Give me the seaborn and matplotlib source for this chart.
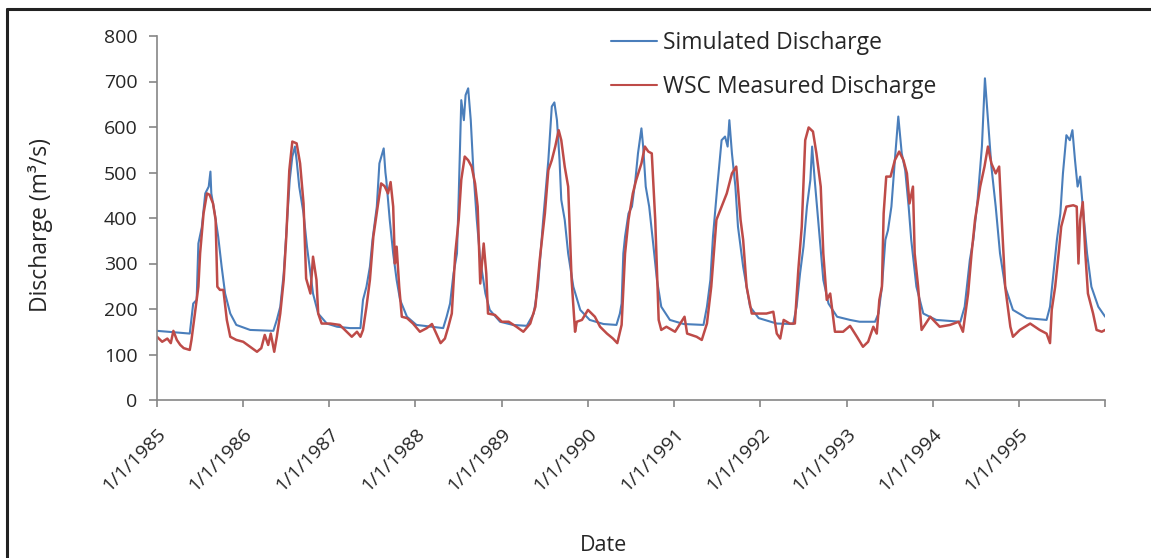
import numpy as np
import pandas as pd
import matplotlib
matplotlib.use("Agg")
import matplotlib.pyplot as plt
from matplotlib.lines import Line2D
import seaborn as sns

# time is in decimal years since 1/1/1985, discharge in m3/s
sim_t = [0.00, 0.38, 0.42, 0.46, 0.48, 0.52, 0.56, 0.60, 0.62, 0.63, 0.67, 0.71, 0.75, 0.79, 0.85, 0.92,
         1.08, 1.35, 1.39, 1.43, 1.47, 1.50, 1.54, 1.57, 1.60, 1.62, 1.65, 1.70, 1.74, 1.78, 1.81, 1.87, 1.97,
         2.09, 2.24, 2.36, 2.39, 2.43, 2.47, 2.50, 2.55, 2.58, 2.63, 2.65, 2.66, 2.70, 2.74, 2.78, 2.82, 2.90,
         3.01, 3.32, 3.36, 3.40, 3.44, 3.48, 3.50, 3.53, 3.56, 3.58, 3.61, 3.64, 3.67, 3.71, 3.75, 3.81, 3.86, 3.98,
         4.13, 4.29, 4.37, 4.42, 4.48, 4.54, 4.58, 4.61, 4.64, 4.67, 4.69, 4.73, 4.77, 4.83, 4.91,
         5.02, 5.18, 5.33, 5.37, 5.39, 5.41, 5.43, 5.47, 5.51, 5.55, 5.58, 5.62, 5.64, 5.67, 5.71, 5.76, 5.80, 5.85, 5.95,
         6.11, 6.34, 6.38, 6.42, 6.45, 6.50, 6.55, 6.59, 6.62, 6.64, 6.67, 6.71, 6.74, 6.80, 6.88, 6.98,
         7.19, 7.38, 7.42, 7.46, 7.50, 7.54, 7.58, 7.60, 7.63, 7.67, 7.73, 7.79, 7.89,
         8.04, 8.15, 8.33, 8.37, 8.41, 8.45, 8.48, 8.52, 8.56, 8.60, 8.64, 8.68, 8.72, 8.75, 8.81, 8.89,
         9.04, 9.32, 9.37, 9.43, 9.47, 9.52, 9.57, 9.605, 9.64, 9.68, 9.73, 9.78, 9.84, 9.93,
         10.09, 10.32, 10.36, 10.40, 10.44, 10.48, 10.51, 10.55, 10.59, 10.62, 10.65, 10.68, 10.71, 10.74,
         10.79, 10.84, 10.92, 11.00]
sim_q = [152, 146, 212, 220, 344, 380, 454, 469, 502, 454, 410, 359, 293, 234, 190, 165,
         154, 152, 176, 205, 278, 366, 484, 535, 557, 527, 469, 410, 337, 278, 234, 190, 168,
         161, 158, 158, 220, 249, 293, 352, 425, 520, 553, 500, 484, 396, 322, 264, 220, 183,
         165, 158, 183, 212, 278, 322, 447, 659, 615, 670, 685, 615, 505, 396, 308, 234, 198, 172,
         165, 163, 190, 249, 396, 527, 645, 654, 615, 527, 440, 396, 322, 249, 198,
         176, 167, 165, 190, 212, 322, 359, 410, 425, 484, 542, 597, 557, 469, 425, 337, 264, 205, 176,
         167, 165, 205, 264, 359, 469, 571, 579, 557, 615, 542, 469, 381, 293, 205, 180,
         168, 167, 205, 278, 337, 425, 484, 557, 484, 396, 264, 212, 183,
         176, 172, 172, 190, 249, 352, 373, 425, 527, 623, 542, 505, 425, 352, 249, 190,
         176, 172, 205, 308, 352, 440, 557, 707, 615, 513, 425, 322, 249, 198,
         180, 176, 205, 278, 352, 410, 498, 582, 571, 593, 527, 469, 491, 425,
         322, 249, 205, 183]

obs_t = [0.00, 0.06, 0.12, 0.16, 0.19, 0.23, 0.27, 0.31, 0.38, 0.40, 0.44, 0.48, 0.50, 0.54, 0.58, 0.61,
         0.65, 0.68, 0.70, 0.73, 0.77, 0.81, 0.85, 0.92,
         1.00, 1.08, 1.16, 1.21, 1.25, 1.29, 1.32, 1.36, 1.39, 1.43, 1.47, 1.50, 1.535, 1.57, 1.62, 1.66, 1.70,
         1.73, 1.78, 1.81, 1.85, 1.87, 1.91,
         2.01, 2.12, 2.20, 2.26, 2.32, 2.36, 2.39, 2.43, 2.47, 2.51, 2.56, 2.60, 2.64, 2.68, 2.71, 2.74, 2.76,
         2.78, 2.81, 2.84, 2.90, 2.97,
         3.05, 3.13, 3.19, 3.24, 3.29, 3.34, 3.38, 3.42, 3.46, 3.50, 3.53, 3.57, 3.61, 3.65, 3.69, 3.72, 3.75,
         3.79, 3.82, 3.84, 3.92,
         4.00, 4.08, 4.17, 4.25, 4.33, 4.39, 4.44, 4.50, 4.54, 4.58, 4.62, 4.66, 4.69, 4.73, 4.77, 4.81, 4.85,
         4.87, 4.93,
         5.00, 5.08, 5.14, 5.22, 5.29, 5.34, 5.39, 5.43, 5.47, 5.52, 5.56, 5.62, 5.66, 5.70, 5.74, 5.78, 5.82,
         5.85, 5.91,
         6.01, 6.12, 6.15, 6.26, 6.32, 6.38, 6.43, 6.49, 6.55, 6.61, 6.67, 6.72, 6.77, 6.80, 6.84, 6.90, 6.96,
         7.07, 7.15, 7.19, 7.23, 7.27, 7.34, 7.40, 7.44, 7.48, 7.52, 7.56, 7.61, 7.65, 7.70, 7.73, 7.77, 7.81,
         7.865, 7.96,
         8.04, 8.12, 8.19, 8.25, 8.31, 8.35, 8.38, 8.41, 8.43, 8.46, 8.51, 8.56, 8.61, 8.66, 8.70, 8.73, 8.77,
         8.79, 8.83, 8.87, 8.97,
         9.08, 9.20, 9.30, 9.35, 9.41, 9.45, 9.49, 9.55, 9.60, 9.64, 9.68, 9.73, 9.77, 9.80, 9.84, 9.90, 9.93,
         10.01, 10.13, 10.24, 10.32, 10.36, 10.38, 10.42, 10.46, 10.49, 10.55, 10.63, 10.67, 10.69, 10.71,
         10.74, 10.77, 10.80, 10.86, 10.90, 10.96, 11.00]
obs_q = [139, 128, 135, 125, 152, 132, 121, 114, 110, 132, 190, 249, 322, 410, 454, 451,
         432, 396, 249, 242, 242, 176, 139, 132,
         128, 117, 106, 114, 143, 121, 146, 106, 139, 190, 264, 359, 505, 568, 564, 520, 432,
         267, 234, 315, 264, 190, 168,
         168, 165, 150, 139, 150, 139, 154, 205, 264, 359, 425, 476, 470, 454, 479, 425, 300,
         337, 249, 183, 180, 168,
         150, 158, 167, 146, 125, 135, 161, 190, 322, 396, 484, 535, 527, 513, 476, 425, 256,
         344, 278, 190, 187,
         172, 172, 161, 150, 168, 205, 308, 410, 505, 527, 557, 593, 571, 513, 469, 264, 150,
         172, 176,
         198, 183, 161, 146, 135, 125, 165, 322, 396, 454, 484, 520, 557, 546, 542, 396, 176,
         154, 161,
         150, 183, 146, 139, 132, 168, 249, 396, 425, 454, 498, 513, 396, 352, 249, 190, 190,
         190, 194, 146, 135, 176, 168, 168, 286, 381, 571, 599, 590, 542, 469, 322, 220, 234,
         150, 150,
         163, 139, 117, 128, 161, 146, 220, 249, 410, 491, 491, 527, 546, 527, 498, 432, 469,
         322, 249, 154, 183,
         161, 165, 172, 150, 234, 322, 396, 469, 513, 557, 520, 498, 513, 396, 249, 161, 139,
         154, 168, 154, 146, 125, 198, 249, 322, 381, 425, 428, 425, 300, 396,
         435, 322, 234, 190, 154, 150, 154]

years = list(range(1985, 1997))
year_labels = [f"1/1/{y}" for y in years[:-1]] + [""]

start = pd.Timestamp("1985-01-01")


def to_date(t):
    return start + pd.to_timedelta(np.asarray(t) * 365.25, unit="D")


sim = pd.DataFrame({"Date": to_date(sim_t), "Discharge": sim_q})
obs = pd.DataFrame({"Date": to_date(obs_t), "Discharge": obs_q})

sns.set_style("white")
plt.rcParams["font.family"] = ["Open Sans", "DejaVu Sans"]

fig = plt.figure(figsize=(11.51, 5.58), dpi=100)
ax = fig.add_axes([157 / 1151, 1 - 400 / 558, (1105 - 157) / 1151, (400 - 36) / 558])

blue = "#4A7EBB"
red = "#BE4B48"
sns.lineplot(data=sim, x="Date", y="Discharge", ax=ax, color=blue, linewidth=1.5,
             label="Simulated Discharge", estimator=None, sort=False)
sns.lineplot(data=obs, x="Date", y="Discharge", ax=ax, color=red, linewidth=1.8,
             label="WSC Measured Discharge", estimator=None, sort=False)

ax.set_xlim(pd.Timestamp("1985-01-01"), pd.Timestamp("1996-01-01"))
ax.set_ylim(0, 800)
ax.set_yticks(range(0, 801, 100))
ticks = [pd.Timestamp(f"{y}-01-01") for y in years]
ax.set_xticks(ticks)
ax.set_xticklabels(year_labels, rotation=45, ha="right", va="top", rotation_mode="anchor")

axis_gray = "#868686"
for side in ["top", "right"]:
    ax.spines[side].set_visible(False)
for side in ["left", "bottom"]:
    ax.spines[side].set_color(axis_gray)
    ax.spines[side].set_linewidth(1.2)
ax.tick_params(axis="y", direction="out", length=6, width=1.2, color=axis_gray,
               labelsize=14, pad=8, left=True)
ax.tick_params(axis="x", direction="out", length=5, width=1.2, color=axis_gray,
               labelsize=14, pad=13, bottom=True)

ax.set_xlabel("Date", fontsize=15.5)
ax.set_ylabel("Discharge (m³/s)", fontsize=16.5)
ax.xaxis.set_label_coords(0.471, -0.37)
ax.yaxis.set_label_coords(-0.11, 0.48)

leg = ax.legend(loc="upper left", bbox_to_anchor=(602 / 1151, 1 - 22 / 558),
                bbox_transform=fig.transFigure, frameon=False, fontsize=16.5,
                handlelength=2.0, handletextpad=0.25, labelspacing=0.85, borderaxespad=0)
for h in leg.get_lines():
    h.set_linewidth(1.5)

# outer chart frame (only top and left edges fall inside the image)
fig.add_artist(Line2D([7.5 / 1151, 7.5 / 1151], [0, 1 - 8.5 / 558], transform=fig.transFigure,
                      color="#222222", linewidth=2.2))
fig.add_artist(Line2D([7.5 / 1151, 1], [1 - 8.5 / 558, 1 - 8.5 / 558], transform=fig.transFigure,
                      color="#222222", linewidth=2.2))

fig.savefig("out.png", dpi=100)
